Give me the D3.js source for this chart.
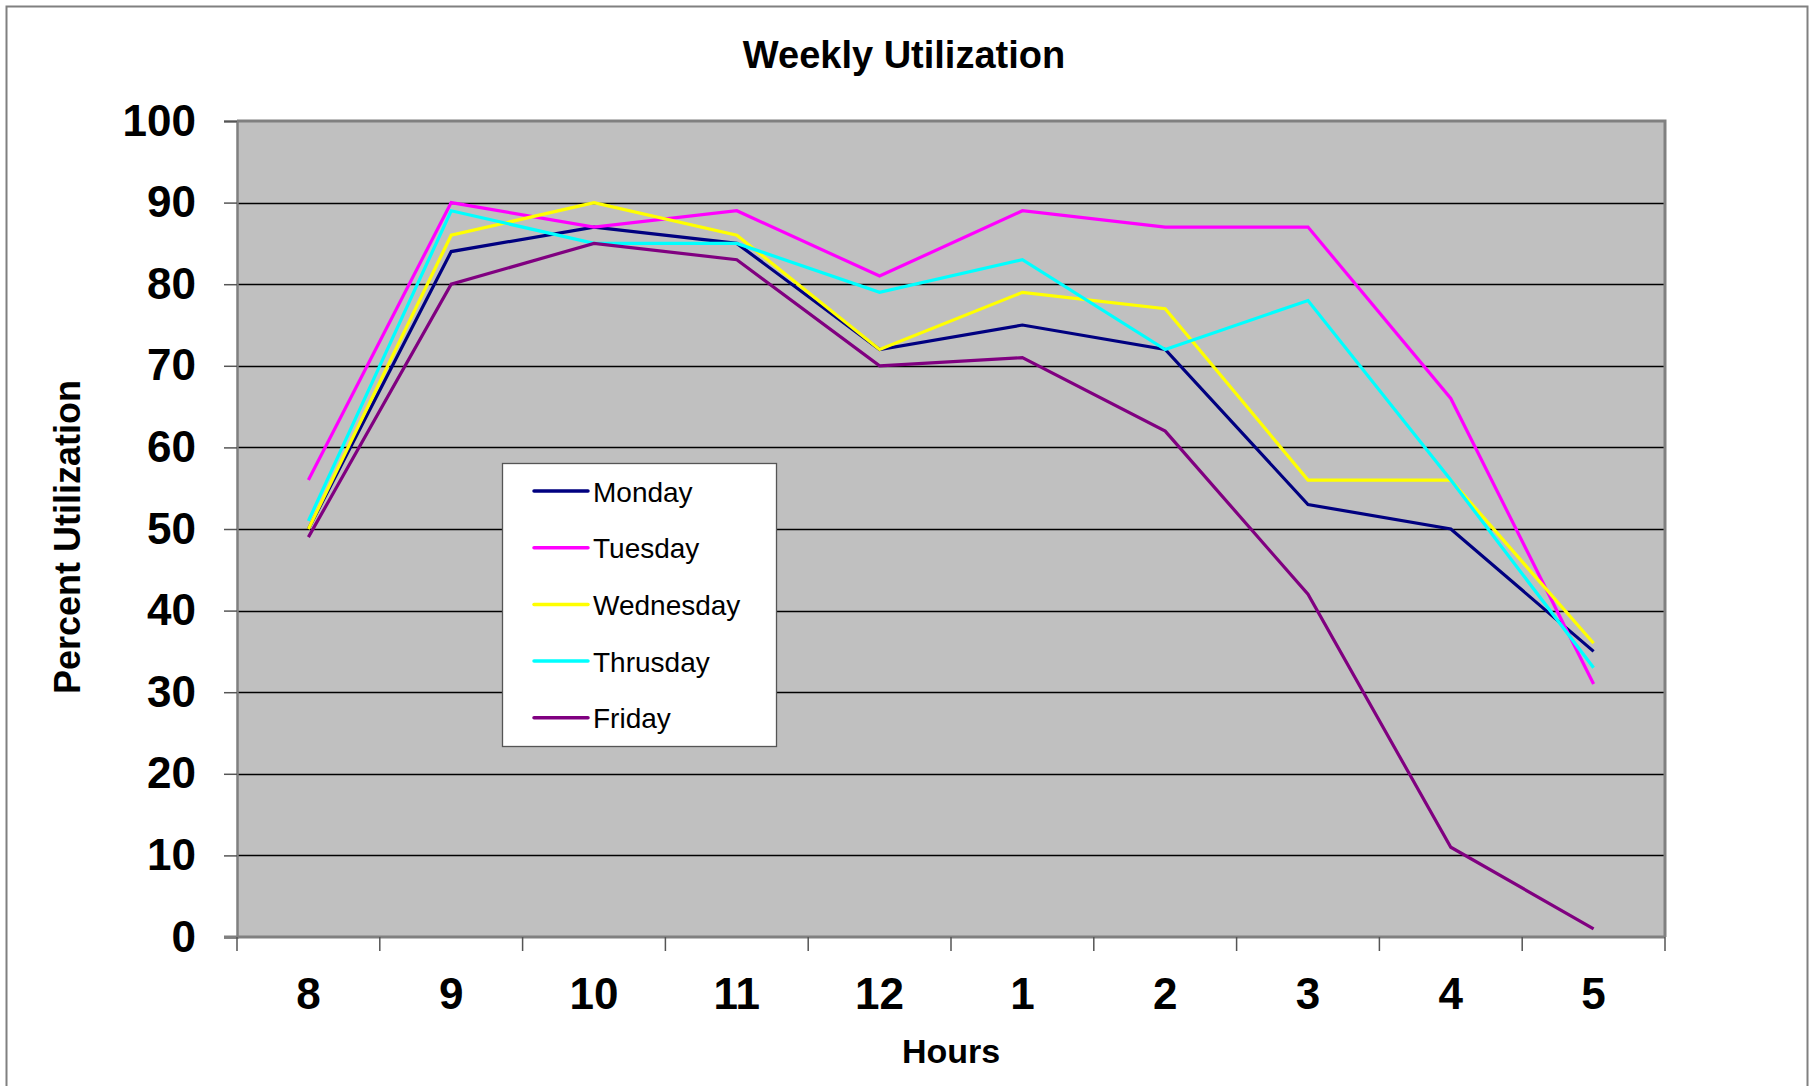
<!DOCTYPE html>
<html>
<head>
<meta charset="utf-8">
<script src="https://cdn.jsdelivr.net/npm/d3@7"></script>
<style>
  body { margin: 0; background: #fff; }
  svg { display: block; font-family: "Liberation Sans", Arial, sans-serif; }
</style>
</head>
<body>
<div id="app"></div>
<script>
// hours on the x axis
const hours = ['8', '9', '10', '11', '12', '1', '2', '3', '4', '5']

// one array per day
const monday = [50, 84, 87, 85, 72, 75, 72, 53, 50, 35]
const tuesday = [56, 90, 87, 89, 81, 89, 87, 87, 66, 31]
const wednesday = [50, 86, 90, 86, 72, 79, 77, 56, 56, 36]
const thursday = [51, 89, 85, 85, 79, 83, 72, 78, 56, 33]
const friday = [49, 80, 85, 83, 70, 71, 62, 42, 11, 1]

const dayNames = ['Monday', 'Tuesday', 'Wednesday', 'Thrusday', 'Friday']
const dayColors = ['#000080', '#ff00ff', '#ffff00', '#00ffff', '#800080']
const yTicks = [0, 10, 20, 30, 40, 50, 60, 70, 80, 90, 100]

function main() {
  const width = 1810
  const height = 1086
  const plot = { left: 237, right: 1665, top: 121, bottom: 937 }

  const series = [monday, tuesday, wednesday, thursday, friday].map((values, i) => ({
    name: dayNames[i],
    color: dayColors[i],
    values: values
  }))

  const svg = d3.select('#app')
    .append('svg')
    .attr('width', width)
    .attr('height', height)

  // outer chart frame
  svg.append('rect')
    .attr('x', 6.5)
    .attr('y', 6.5)
    .attr('width', 1801)
    .attr('height', 1100)
    .attr('fill', '#fff')
    .attr('stroke', '#808080')
    .attr('stroke-width', 2)

  // scales
  const x = d3.scaleBand()
    .domain(hours)
    .range([plot.left, plot.right])

  const y = d3.scaleLinear()
    .domain([0, 100])
    .range([plot.bottom, plot.top])

  // plot background
  svg.append('rect')
    .attr('x', plot.left)
    .attr('y', plot.top)
    .attr('width', plot.right - plot.left)
    .attr('height', plot.bottom - plot.top)
    .attr('fill', '#c0c0c0')

  // horizontal gridlines
  svg.append('g')
    .selectAll('line')
    .data(yTicks.filter((d) => d > 0 && d < 100))
    .join('line')
    .attr('x1', plot.left)
    .attr('x2', plot.right)
    .attr('y1', (d) => Math.round(y(d)) + 0.5)
    .attr('y2', (d) => Math.round(y(d)) + 0.5)
    .attr('stroke', '#000')
    .attr('stroke-width', 1.3)

  // plot border (top and right)
  svg.append('path')
    .attr('d', `M${plot.left},${plot.top}H${plot.right}V${plot.bottom}`)
    .attr('fill', 'none')
    .attr('stroke', '#808080')
    .attr('stroke-width', 3)

  // y axis
  const yAxis = svg.append('g')
    .attr('transform', `translate(${plot.left},0)`)
    .call(d3.axisLeft(y).tickValues(yTicks).tickSize(13).tickPadding(28))
  yAxis.select('.domain').attr('stroke', '#808080').attr('stroke-width', 2.5)
  yAxis.selectAll('.tick line').attr('stroke', '#555').attr('stroke-width', 1.5)
  yAxis.selectAll('.tick text')
    .attr('font-size', 44)
    .attr('font-weight', 'bold')
    .attr('fill', '#000')
    .attr('font-family', '"Liberation Sans", Arial, sans-serif')

  // x axis line
  svg.append('line')
    .attr('x1', plot.left - 13)
    .attr('x2', plot.right)
    .attr('y1', plot.bottom)
    .attr('y2', plot.bottom)
    .attr('stroke', '#808080')
    .attr('stroke-width', 3)

  // x ticks at the band boundaries
  const boundaries = hours.map((h) => x(h)).concat([x.range()[1]])
  svg.append('g')
    .selectAll('line')
    .data(boundaries)
    .join('line')
    .attr('x1', (d) => d)
    .attr('x2', (d) => d)
    .attr('y1', plot.bottom)
    .attr('y2', plot.bottom + 14)
    .attr('stroke', '#555')
    .attr('stroke-width', 1.5)

  // x tick labels centered in each band
  svg.append('g')
    .selectAll('text')
    .data(hours)
    .join('text')
    .attr('x', (d) => x(d) + x.bandwidth() / 2)
    .attr('y', 1009)
    .attr('text-anchor', 'middle')
    .attr('font-size', 44)
    .attr('font-weight', 'bold')
    .text((d) => d)

  // lines
  const line = d3.line()
    .x((d, i) => x(hours[i]) + x.bandwidth() / 2)
    .y((d) => y(d))

  svg.append('g')
    .selectAll('path')
    .data(series)
    .join('path')
    .attr('d', (d) => line(d.values))
    .attr('fill', 'none')
    .attr('stroke', (d) => d.color)
    .attr('stroke-width', 3.2)
    .attr('stroke-linejoin', 'miter')

  // title
  svg.append('text')
    .attr('x', 904)
    .attr('y', 68)
    .attr('text-anchor', 'middle')
    .attr('font-size', 38)
    .attr('font-weight', 'bold')
    .text('Weekly Utilization')

  // axis titles
  svg.append('text')
    .attr('x', 951)
    .attr('y', 1063)
    .attr('text-anchor', 'middle')
    .attr('font-size', 34)
    .attr('font-weight', 'bold')
    .text('Hours')

  svg.append('text')
    .attr('transform', 'translate(80,537) rotate(-90)')
    .attr('text-anchor', 'middle')
    .attr('font-size', 36)
    .attr('font-weight', 'bold')
    .text('Percent Utilization')

  // legend
  const legend = svg.append('g').attr('transform', 'translate(502,463)')
  legend.append('rect')
    .attr('x', 0.5)
    .attr('y', 0.5)
    .attr('width', 274)
    .attr('height', 283)
    .attr('fill', '#fff')
    .attr('stroke', '#555')
    .attr('stroke-width', 1.3)

  const items = legend.selectAll('g.item')
    .data(series)
    .join('g')
    .attr('class', 'item')
    .attr('transform', (d, i) => `translate(0,${28 + i * 56.7})`)

  items.append('line')
    .attr('x1', 32)
    .attr('x2', 86)
    .attr('stroke', (d) => d.color)
    .attr('stroke-width', 3.5)
    .attr('stroke-linecap', 'round')

  items.append('text')
    .attr('x', 91)
    .attr('y', 10.5)
    .attr('font-size', 28)
    .text((d) => d.name)
}

main()
</script>
</body>
</html>
